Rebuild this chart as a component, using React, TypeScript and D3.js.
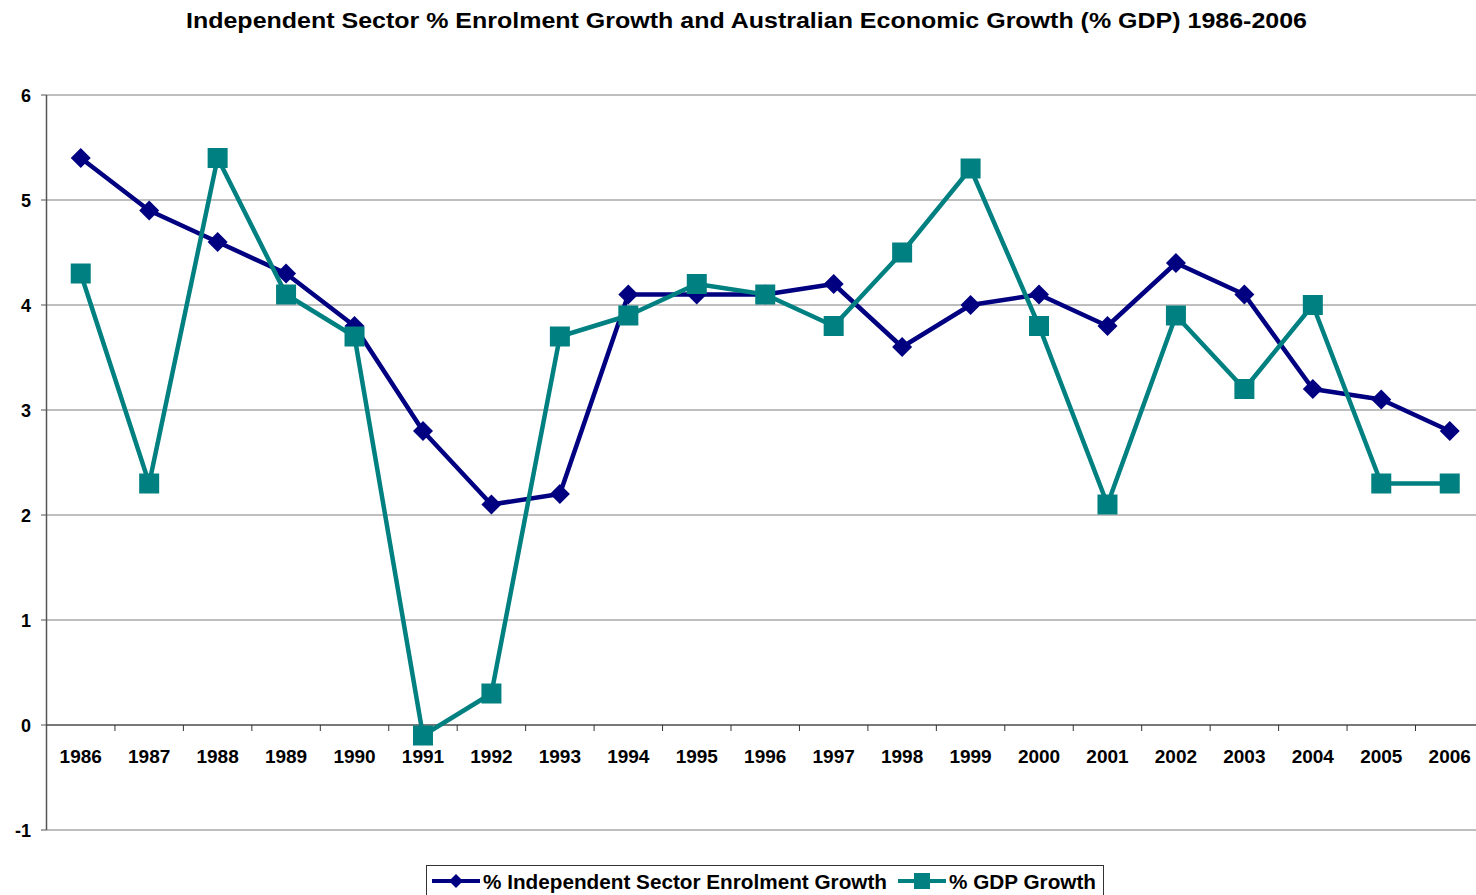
import React from "react";
import * as d3 from "d3";

const years = ["1986","1987","1988","1989","1990","1991","1992","1993","1994","1995","1996","1997","1998","1999","2000","2001","2002","2003","2004","2005","2006"];
const enrolment = [5.4,4.9,4.6,4.3,3.8,2.8,2.1,2.2,4.1,4.1,4.1,4.2,3.6,4.0,4.1,3.8,4.4,4.1,3.2,3.1,2.8];
const gdp = [4.3,2.3,5.4,4.1,3.7,-0.1,0.3,3.7,3.9,4.2,4.1,3.8,4.5,5.3,3.8,2.1,3.9,3.2,4.0,2.3,2.3];
const yTicks = [-1,0,1,2,3,4,5,6];
const seriesNames = ["% Independent Sector Enrolment Growth", "% GDP Growth"];
const title = "Independent Sector % Enrolment Growth and Australian Economic Growth (% GDP) 1986-2006";

const W = 1476, H = 895;
const FONT = "'Liberation Sans', Arial, sans-serif";
const NAVY = "#000080", TEAL = "#008080";

export default function App() {
  const left = 46.5, catW = 68.45;
  const x = d3.scaleBand<string>().domain(years).range([left, left + catW * years.length]);
  const y = d3.scaleLinear().domain([-1, 6]).range([830, 95]);
  const cx = (d: string) => (x(d) as number) + x.bandwidth() / 2;
  const line = d3.line<number>().x((_, i) => cx(years[i])).y((v) => y(v));

  const diamond = (px: number, py: number, r = 10) =>
    `M${px},${py - r}L${px + r},${py}L${px},${py + r}L${px - r},${py}Z`;

  return (
    <svg width={W} height={H} style={{ position: "absolute", left: 0, top: 0, display: "block" }} fontFamily={FONT}>
      <rect width={W} height={H} fill="#fff" />
      <text x={186} y={28} fontSize={22.5} fontWeight="bold" textLength={1121} lengthAdjust="spacingAndGlyphs">{title}</text>
      {yTicks.map((t) => (
        <g key={t}>
          <line x1={left} x2={W} y1={y(t)} y2={y(t)} stroke="#7f7f7f" strokeWidth={1} />
          <line x1={41} x2={left} y1={y(t)} y2={y(t)} stroke="#555" strokeWidth={1} />
          <text x={31} y={y(t) + 6.5} textAnchor="end" fontSize={18} fontWeight="bold">{t}</text>
        </g>
      ))}
      <line x1={left} x2={left} y1={y(6)} y2={y(-1)} stroke="#555" strokeWidth={1.5} />
      <line x1={left} x2={W} y1={y(0)} y2={y(0)} stroke="#333" strokeWidth={1} />
      {years.map((yr, i) => (
        <g key={yr}>
          {i > 0 && <line x1={x(yr)} x2={x(yr)} y1={y(0)} y2={y(0) + 6} stroke="#333" strokeWidth={1} />}
          <text x={cx(yr)} y={763} textAnchor="middle" fontSize={19} fontWeight="bold">{yr}</text>
        </g>
      ))}
      <path d={line(enrolment) || ""} fill="none" stroke={NAVY} strokeWidth={4.5} strokeLinejoin="round" />
      {enrolment.map((v, i) => (
        <path key={i} d={diamond(cx(years[i]), y(v))} fill={NAVY} />
      ))}
      <path d={line(gdp) || ""} fill="none" stroke={TEAL} strokeWidth={4.5} strokeLinejoin="round" />
      {gdp.map((v, i) => (
        <rect key={i} x={cx(years[i]) - 10} y={y(v) - 10} width={20} height={20} fill={TEAL} />
      ))}
      <g>
        <rect x={426.5} y={865.5} width={677} height={40} fill="#fff" stroke="#333" strokeWidth={1} />
        <line x1={432} x2={480} y1={881} y2={881} stroke={NAVY} strokeWidth={4} />
        <path d={diamond(456, 881, 7)} fill={NAVY} />
        <text x={483} y={889} fontSize={19.5} fontWeight="bold" textLength={404} lengthAdjust="spacingAndGlyphs">{seriesNames[0]}</text>
        <line x1={898} x2={946} y1={881} y2={881} stroke={TEAL} strokeWidth={4} />
        <rect x={914} y={873} width={16} height={16} fill={TEAL} />
        <text x={949} y={889} fontSize={19.5} fontWeight="bold" textLength={147} lengthAdjust="spacingAndGlyphs">{seriesNames[1]}</text>
      </g>
    </svg>
  );
}
